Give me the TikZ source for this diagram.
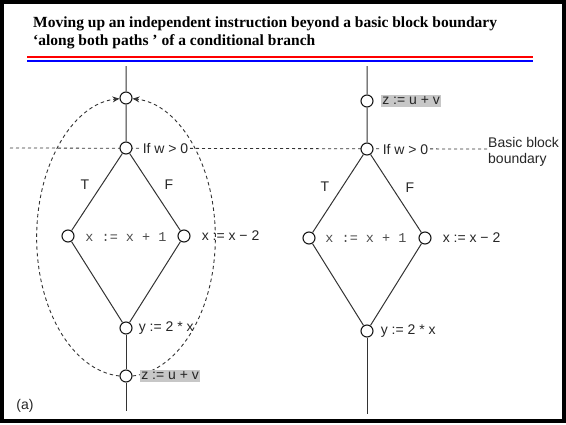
\documentclass[tikz,border=0pt]{standalone}
\usepackage{fontspec}
\setmainfont{Liberation Sans}
\setmonofont{Liberation Mono}
\newfontfamily\titlefont{Liberation Serif}
\usetikzlibrary{arrows.meta,positioning}

\begin{document}
\begin{tikzpicture}[x=1pt,y=-1pt,font=\fontsize{14}{16}\selectfont,
  dot/.style={circle,draw=black!90,fill=white,line width=1.1pt,minimum size=12pt,inner sep=0pt},
  edge/.style={draw=black!80,line width=1pt},
  lbl/.style={text=black!85,inner sep=1pt},
  code/.style={text=black!70,font=\ttfamily\fontsize{13.5}{15}\selectfont},
  moved/.style={lbl,fill=black!22,inner sep=1.5pt},
  bound/.style={draw=black!80,line width=0.8pt,dash pattern=on 3pt off 3pt},
  loop/.style={draw=black!80,line width=0.9pt,dash pattern=on 3.5pt off 3pt,-{Stealth[length=7pt,width=6pt]}}]
\useasboundingbox (0,0) rectangle (566,424);
\draw[line width=3.5pt] (2,1.75) rectangle (564,421);

% title and rules
\node[anchor=base west,inner sep=0pt,font=\titlefont\bfseries\fontsize{15.5}{18}\selectfont] (titleA) at (33,27) {Moving up an independent instruction beyond a basic block boundary};
\node[anchor=base west,inner sep=0pt,font=\titlefont\bfseries\fontsize{15.5}{18}\selectfont] (titleB) at (33,45) {‘along both paths ’ of a conditional branch};
\draw[red,line width=2.2pt] (27,57) -- (533,57);
\draw[blue,line width=2.2pt] (27,61) -- (533,61);

% basic block boundary
\coordinate (bbStart) at (10,148);
\coordinate (bbEnd) at (487,149);
\draw[bound] (bbStart) -- (bbEnd);
\node[lbl,anchor=base west,inner sep=0pt] (bbA) at (488,147) {Basic block};
\node[lbl,anchor=base west,inner sep=0pt] (bbB) at (488,163) {boundary};

% (a) left: before the move
\coordinate (tL) at (126,66);
\coordinate (eL) at (126,411);
\node[dot] (topL) at (126,98) {};
\node[dot] (ifL) at (126,148) {};
\node[dot] (aL) at (68,236) {};
\node[dot] (bL) at (184,236) {};
\node[dot] (yL) at (126,328) {};
\node[dot] (zL) at (126,376) {};
\draw[edge] (tL) -- (topL) -- (ifL) -- (aL) -- (yL) -- (bL) -- (ifL);
\draw[edge] (yL) -- (zL) -- (eL);
\draw[loop] (zL.west) arc[start angle=266,end angle=94,x radius=89pt,y radius=139pt];
\draw[loop] (zL.east) arc[start angle=274,end angle=446,x radius=89pt,y radius=139pt];
\node[lbl,fill=white,right=9pt of ifL] (ifLt) {If w > 0};
\node[code] (incL) at (126,237) {x := x + 1};
\node[lbl,right=10pt of bL] (decL) {x := x − 2};
\node[lbl,right=5pt of yL] (mulL) {y := 2 * x};
\node[moved,right=7pt of zL] (addL) {z := u + v};
\node[lbl] (tLt) at (85,185) {T};
\node[lbl] (fLt) at (169,185) {F};
\node[lbl] (capA) at (25,406) {(a)};

% right: after the move
\coordinate (tR) at (367,66);
\coordinate (eR) at (367,414);
\node[dot] (zR) at (367,101) {};
\node[dot] (ifR) at (367,149) {};
\node[dot] (aR) at (309,238) {};
\node[dot] (bR) at (425,238) {};
\node[dot] (yR) at (367,331) {};
\draw[edge] (tR) -- (zR) -- (ifR) -- (aR) -- (yR) -- (bR) -- (ifR);
\draw[edge] (yR) -- (eR);
\node[moved,right=7pt of zR] (addR) {z := u + v};
\node[lbl,fill=white,right=8pt of ifR] (ifRt) {If w > 0};
\node[code] (incR) at (366,238) {x := x + 1};
\node[lbl,right=10pt of bR] (decR) {x := x − 2};
\node[lbl,right=6pt of yR] (mulR) {y := 2 * x};
\node[lbl] (tRt) at (325,187) {T};
\node[lbl] (fRt) at (410,188) {F};
\end{tikzpicture}
\end{document}
